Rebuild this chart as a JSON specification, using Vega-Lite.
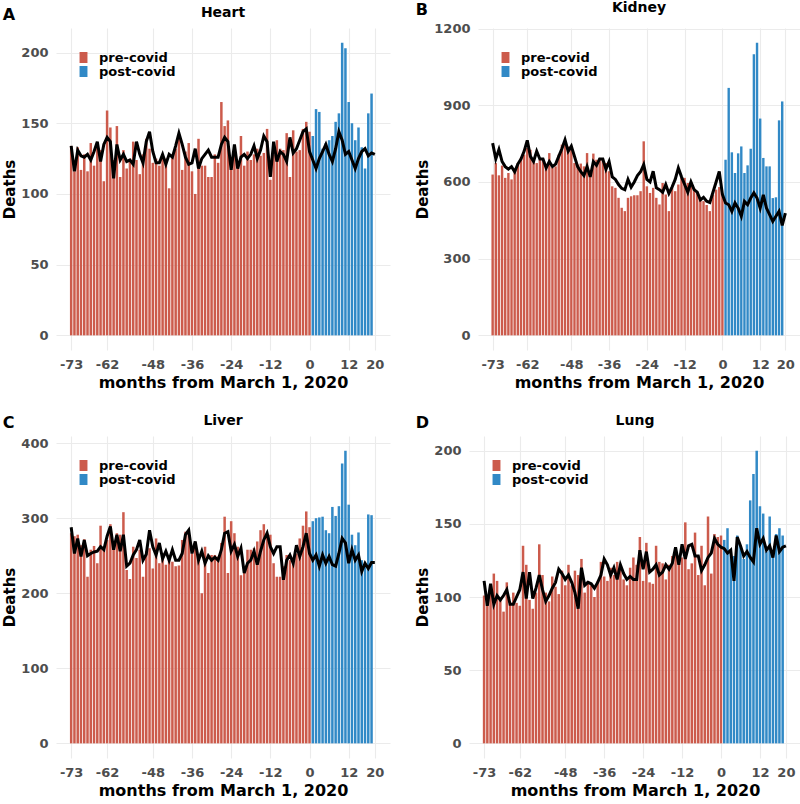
{
"$schema": "https://vega.github.io/schema/vega-lite/v6.json",
"background": "white",
"padding": {"left": 2, "top": 0, "right": 0, "bottom": 0},
"config": {
  "font": "DejaVu Sans",
  "view": {"stroke": null},
  "axis": {"domain": false, "ticks": false, "gridColor": "#EBEBEB", "gridWidth": 1.1, "labelFont": "DejaVu Sans", "labelFontWeight": "bold", "labelFontSize": 13, "labelColor": "#4D4D4D", "labelPadding": 8, "titleFont": "DejaVu Sans", "titleFontWeight": "bold", "titleFontSize": 15, "titleColor": "black"},
  "axisX": {"titlePadding": 3, "titleFontSize": 16, "labelFlush": false, "labelOverlap": false, "labelExpr": "datum.value + ''"},
  "axisY": {"titlePadding": 3, "labelExpr": "datum.value + ''"},
  "title": {"font": "DejaVu Sans", "fontWeight": "bold", "fontSize": 14, "color": "black"},
  "legend": {"orient": "none", "legendX": 21, "legendY": 23, "symbolType": "M-0.72,-1H0.72V1H-0.72Z", "symbolSize": 121, "symbolStrokeWidth": 0, "labelFont": "DejaVu Sans", "labelFontWeight": "bold", "labelFontSize": 13, "labelColor": "black", "rowPadding": 0, "labelOffset": 9}
},
"datasets": {
"heart": [
{"m":-73,"d":134,"e":134,"g":"pre-covid"},{"m":-72,"d":116,"e":116,"g":"pre-covid"},{"m":-71,"d":133,"e":131,"g":"pre-covid"},{"m":-70,"d":117,"e":127,"g":"pre-covid"},{"m":-69,"d":128,"e":126,"g":"pre-covid"},{"m":-68,"d":116,"e":128,"g":"pre-covid"},{"m":-67,"d":136,"e":124,"g":"pre-covid"},{"m":-66,"d":120,"e":130,"g":"pre-covid"},{"m":-65,"d":134,"e":137,"g":"pre-covid"},{"m":-64,"d":131,"e":123,"g":"pre-covid"},
{"m":-63,"d":109,"e":135,"g":"pre-covid"},{"m":-62,"d":159,"e":140,"g":"pre-covid"},{"m":-61,"d":147,"e":137,"g":"pre-covid"},{"m":-60,"d":124,"e":111,"g":"pre-covid"},{"m":-59,"d":148,"e":135,"g":"pre-covid"},{"m":-58,"d":112,"e":124,"g":"pre-covid"},{"m":-57,"d":131,"e":128,"g":"pre-covid"},{"m":-56,"d":118,"e":123,"g":"pre-covid"},{"m":-55,"d":125,"e":124,"g":"pre-covid"},{"m":-54,"d":137,"e":121,"g":"pre-covid"},
{"m":-53,"d":124,"e":137,"g":"pre-covid"},{"m":-52,"d":114,"e":128,"g":"pre-covid"},{"m":-51,"d":128,"e":122,"g":"pre-covid"},{"m":-50,"d":139,"e":137,"g":"pre-covid"},{"m":-49,"d":132,"e":144,"g":"pre-covid"},{"m":-48,"d":122,"e":130,"g":"pre-covid"},{"m":-47,"d":125,"e":122,"g":"pre-covid"},{"m":-46,"d":120,"e":122,"g":"pre-covid"},{"m":-45,"d":126,"e":128,"g":"pre-covid"},{"m":-44,"d":125,"e":121,"g":"pre-covid"},
{"m":-43,"d":104,"e":128,"g":"pre-covid"},{"m":-42,"d":128,"e":126,"g":"pre-covid"},{"m":-41,"d":132,"e":134,"g":"pre-covid"},{"m":-40,"d":140,"e":143,"g":"pre-covid"},{"m":-39,"d":117,"e":135,"g":"pre-covid"},{"m":-38,"d":130,"e":126,"g":"pre-covid"},{"m":-37,"d":136,"e":121,"g":"pre-covid"},{"m":-36,"d":116,"e":122,"g":"pre-covid"},{"m":-35,"d":100,"e":132,"g":"pre-covid"},{"m":-34,"d":139,"e":118,"g":"pre-covid"},
{"m":-33,"d":120,"e":125,"g":"pre-covid"},{"m":-32,"d":120,"e":128,"g":"pre-covid"},{"m":-31,"d":112,"e":131,"g":"pre-covid"},{"m":-30,"d":112,"e":126,"g":"pre-covid"},{"m":-29,"d":128,"e":126,"g":"pre-covid"},{"m":-28,"d":122,"e":126,"g":"pre-covid"},{"m":-27,"d":165,"e":135,"g":"pre-covid"},{"m":-26,"d":148,"e":140,"g":"pre-covid"},{"m":-25,"d":152,"e":137,"g":"pre-covid"},{"m":-24,"d":124,"e":117,"g":"pre-covid"},
{"m":-23,"d":131,"e":135,"g":"pre-covid"},{"m":-22,"d":120,"e":118,"g":"pre-covid"},{"m":-21,"d":141,"e":126,"g":"pre-covid"},{"m":-20,"d":120,"e":128,"g":"pre-covid"},{"m":-19,"d":130,"e":125,"g":"pre-covid"},{"m":-18,"d":124,"e":128,"g":"pre-covid"},{"m":-17,"d":128,"e":134,"g":"pre-covid"},{"m":-16,"d":132,"e":125,"g":"pre-covid"},{"m":-15,"d":127,"e":131,"g":"pre-covid"},{"m":-14,"d":129,"e":141,"g":"pre-covid"},
{"m":-13,"d":146,"e":137,"g":"pre-covid"},{"m":-12,"d":110,"e":112,"g":"pre-covid"},{"m":-11,"d":128,"e":137,"g":"pre-covid"},{"m":-10,"d":138,"e":123,"g":"pre-covid"},{"m":-9,"d":132,"e":130,"g":"pre-covid"},{"m":-8,"d":131,"e":128,"g":"pre-covid"},{"m":-7,"d":143,"e":123,"g":"pre-covid"},{"m":-6,"d":112,"e":140,"g":"pre-covid"},{"m":-5,"d":145,"e":129,"g":"pre-covid"},{"m":-4,"d":130,"e":132,"g":"pre-covid"},
{"m":-3,"d":131,"e":138,"g":"pre-covid"},{"m":-2,"d":146,"e":144,"g":"pre-covid"},{"m":-1,"d":151,"e":146,"g":"pre-covid"},{"m":0,"d":144,"e":130,"g":"pre-covid"},
{"m":1,"d":141,"e":124,"g":"post-covid"},{"m":2,"d":160,"e":118,"g":"post-covid"},{"m":3,"d":158,"e":125,"g":"post-covid"},{"m":4,"d":132,"e":130,"g":"post-covid"},{"m":5,"d":136,"e":135,"g":"post-covid"},{"m":6,"d":138,"e":128,"g":"post-covid"},{"m":7,"d":141,"e":123,"g":"post-covid"},{"m":8,"d":151,"e":132,"g":"post-covid"},{"m":9,"d":157,"e":144,"g":"post-covid"},{"m":10,"d":207,"e":138,"g":"post-covid"},
{"m":11,"d":203,"e":128,"g":"post-covid"},{"m":12,"d":165,"e":130,"g":"post-covid"},{"m":13,"d":150,"e":124,"g":"post-covid"},{"m":14,"d":138,"e":118,"g":"post-covid"},{"m":15,"d":147,"e":125,"g":"post-covid"},{"m":16,"d":133,"e":130,"g":"post-covid"},{"m":17,"d":118,"e":132,"g":"post-covid"},{"m":18,"d":157,"e":127,"g":"post-covid"},{"m":19,"d":171,"e":129,"g":"post-covid"},{"m":20,"d":null,"e":128,"g":"post-covid"}
],
"kidney": [
{"m":-73,"d":629,"e":752,"g":"pre-covid"},{"m":-72,"d":674,"e":690,"g":"pre-covid"},{"m":-71,"d":626,"e":727,"g":"pre-covid"},{"m":-70,"d":664,"e":680,"g":"pre-covid"},{"m":-69,"d":616,"e":660,"g":"pre-covid"},{"m":-68,"d":635,"e":650,"g":"pre-covid"},{"m":-67,"d":610,"e":660,"g":"pre-covid"},{"m":-66,"d":642,"e":640,"g":"pre-covid"},{"m":-65,"d":674,"e":670,"g":"pre-covid"},{"m":-64,"d":694,"e":690,"g":"pre-covid"},
{"m":-63,"d":707,"e":720,"g":"pre-covid"},{"m":-62,"d":733,"e":763,"g":"pre-covid"},{"m":-61,"d":726,"e":700,"g":"pre-covid"},{"m":-60,"d":687,"e":680,"g":"pre-covid"},{"m":-59,"d":674,"e":720,"g":"pre-covid"},{"m":-58,"d":687,"e":690,"g":"pre-covid"},{"m":-57,"d":687,"e":690,"g":"pre-covid"},{"m":-56,"d":655,"e":655,"g":"pre-covid"},{"m":-55,"d":713,"e":680,"g":"pre-covid"},{"m":-54,"d":655,"e":660,"g":"pre-covid"},
{"m":-53,"d":661,"e":670,"g":"pre-covid"},{"m":-52,"d":707,"e":700,"g":"pre-covid"},{"m":-51,"d":746,"e":730,"g":"pre-covid"},{"m":-50,"d":759,"e":765,"g":"pre-covid"},{"m":-49,"d":739,"e":720,"g":"pre-covid"},{"m":-48,"d":733,"e":740,"g":"pre-covid"},{"m":-47,"d":674,"e":700,"g":"pre-covid"},{"m":-46,"d":668,"e":660,"g":"pre-covid"},{"m":-45,"d":672,"e":640,"g":"pre-covid"},{"m":-44,"d":661,"e":625,"g":"pre-covid"},
{"m":-43,"d":713,"e":660,"g":"pre-covid"},{"m":-42,"d":635,"e":620,"g":"pre-covid"},{"m":-41,"d":711,"e":680,"g":"pre-covid"},{"m":-40,"d":687,"e":665,"g":"pre-covid"},{"m":-39,"d":694,"e":690,"g":"pre-covid"},{"m":-38,"d":691,"e":690,"g":"pre-covid"},{"m":-37,"d":674,"e":650,"g":"pre-covid"},{"m":-36,"d":642,"e":680,"g":"pre-covid"},{"m":-35,"d":583,"e":620,"g":"pre-covid"},{"m":-34,"d":577,"e":610,"g":"pre-covid"},
{"m":-33,"d":538,"e":590,"g":"pre-covid"},{"m":-32,"d":499,"e":575,"g":"pre-covid"},{"m":-31,"d":486,"e":570,"g":"pre-covid"},{"m":-30,"d":538,"e":610,"g":"pre-covid"},{"m":-29,"d":544,"e":580,"g":"pre-covid"},{"m":-28,"d":548,"e":600,"g":"pre-covid"},{"m":-27,"d":548,"e":625,"g":"pre-covid"},{"m":-26,"d":564,"e":640,"g":"pre-covid"},{"m":-25,"d":759,"e":668,"g":"pre-covid"},{"m":-24,"d":583,"e":610,"g":"pre-covid"},
{"m":-23,"d":557,"e":600,"g":"pre-covid"},{"m":-22,"d":577,"e":642,"g":"pre-covid"},{"m":-21,"d":538,"e":577,"g":"pre-covid"},{"m":-20,"d":512,"e":570,"g":"pre-covid"},{"m":-19,"d":596,"e":560,"g":"pre-covid"},{"m":-18,"d":551,"e":590,"g":"pre-covid"},{"m":-17,"d":486,"e":555,"g":"pre-covid"},{"m":-16,"d":577,"e":580,"g":"pre-covid"},{"m":-15,"d":564,"e":610,"g":"pre-covid"},{"m":-14,"d":590,"e":655,"g":"pre-covid"},
{"m":-13,"d":616,"e":620,"g":"pre-covid"},{"m":-12,"d":616,"e":590,"g":"pre-covid"},{"m":-11,"d":596,"e":560,"g":"pre-covid"},{"m":-10,"d":600,"e":600,"g":"pre-covid"},{"m":-9,"d":575,"e":570,"g":"pre-covid"},{"m":-8,"d":560,"e":560,"g":"pre-covid"},{"m":-7,"d":535,"e":530,"g":"pre-covid"},{"m":-6,"d":525,"e":540,"g":"pre-covid"},{"m":-5,"d":510,"e":525,"g":"pre-covid"},{"m":-4,"d":486,"e":520,"g":"pre-covid"},
{"m":-3,"d":550,"e":560,"g":"pre-covid"},{"m":-2,"d":570,"e":600,"g":"pre-covid"},{"m":-1,"d":580,"e":641,"g":"pre-covid"},{"m":0,"d":555,"e":551,"g":"pre-covid"},
{"m":1,"d":687,"e":518,"g":"post-covid"},{"m":2,"d":968,"e":511,"g":"post-covid"},{"m":3,"d":716,"e":485,"g":"post-covid"},{"m":4,"d":635,"e":518,"g":"post-covid"},{"m":5,"d":712,"e":498,"g":"post-covid"},{"m":6,"d":739,"e":466,"g":"post-covid"},{"m":7,"d":635,"e":524,"g":"post-covid"},{"m":8,"d":665,"e":511,"g":"post-covid"},{"m":9,"d":730,"e":537,"g":"post-covid"},{"m":10,"d":1100,"e":557,"g":"post-covid"},
{"m":11,"d":1145,"e":537,"g":"post-covid"},{"m":12,"d":848,"e":498,"g":"post-covid"},{"m":13,"d":694,"e":550,"g":"post-covid"},{"m":14,"d":661,"e":498,"g":"post-covid"},{"m":15,"d":661,"e":472,"g":"post-covid"},{"m":16,"d":537,"e":446,"g":"post-covid"},{"m":17,"d":540,"e":466,"g":"post-covid"},{"m":18,"d":841,"e":485,"g":"post-covid"},{"m":19,"d":915,"e":430,"g":"post-covid"},{"m":20,"d":null,"e":478,"g":"post-covid"}
],
"liver": [
{"m":-73,"d":280,"e":288,"g":"pre-covid"},{"m":-72,"d":276,"e":253,"g":"pre-covid"},{"m":-71,"d":278,"e":273,"g":"pre-covid"},{"m":-70,"d":264,"e":249,"g":"pre-covid"},{"m":-69,"d":272,"e":271,"g":"pre-covid"},{"m":-68,"d":222,"e":250,"g":"pre-covid"},{"m":-67,"d":258,"e":253,"g":"pre-covid"},{"m":-66,"d":263,"e":255,"g":"pre-covid"},{"m":-65,"d":240,"e":256,"g":"pre-covid"},{"m":-64,"d":290,"e":262,"g":"pre-covid"},
{"m":-63,"d":262,"e":258,"g":"pre-covid"},{"m":-62,"d":271,"e":276,"g":"pre-covid"},{"m":-61,"d":292,"e":289,"g":"pre-covid"},{"m":-60,"d":267,"e":258,"g":"pre-covid"},{"m":-59,"d":280,"e":278,"g":"pre-covid"},{"m":-58,"d":278,"e":256,"g":"pre-covid"},{"m":-57,"d":308,"e":278,"g":"pre-covid"},{"m":-56,"d":231,"e":236,"g":"pre-covid"},{"m":-55,"d":219,"e":240,"g":"pre-covid"},{"m":-54,"d":262,"e":251,"g":"pre-covid"},
{"m":-53,"d":247,"e":258,"g":"pre-covid"},{"m":-52,"d":258,"e":271,"g":"pre-covid"},{"m":-51,"d":222,"e":244,"g":"pre-covid"},{"m":-50,"d":256,"e":252,"g":"pre-covid"},{"m":-49,"d":260,"e":284,"g":"pre-covid"},{"m":-48,"d":233,"e":262,"g":"pre-covid"},{"m":-47,"d":273,"e":251,"g":"pre-covid"},{"m":-46,"d":240,"e":267,"g":"pre-covid"},{"m":-45,"d":253,"e":246,"g":"pre-covid"},{"m":-44,"d":238,"e":256,"g":"pre-covid"},
{"m":-43,"d":249,"e":244,"g":"pre-covid"},{"m":-42,"d":242,"e":258,"g":"pre-covid"},{"m":-41,"d":236,"e":244,"g":"pre-covid"},{"m":-40,"d":237,"e":244,"g":"pre-covid"},{"m":-39,"d":271,"e":253,"g":"pre-covid"},{"m":-38,"d":282,"e":278,"g":"pre-covid"},{"m":-37,"d":284,"e":284,"g":"pre-covid"},{"m":-36,"d":253,"e":253,"g":"pre-covid"},{"m":-35,"d":260,"e":269,"g":"pre-covid"},{"m":-34,"d":244,"e":244,"g":"pre-covid"},
{"m":-33,"d":200,"e":256,"g":"pre-covid"},{"m":-32,"d":262,"e":240,"g":"pre-covid"},{"m":-31,"d":227,"e":250,"g":"pre-covid"},{"m":-30,"d":251,"e":244,"g":"pre-covid"},{"m":-29,"d":251,"e":248,"g":"pre-covid"},{"m":-28,"d":249,"e":244,"g":"pre-covid"},{"m":-27,"d":267,"e":258,"g":"pre-covid"},{"m":-26,"d":302,"e":280,"g":"pre-covid"},{"m":-25,"d":227,"e":282,"g":"pre-covid"},{"m":-24,"d":296,"e":256,"g":"pre-covid"},
{"m":-23,"d":280,"e":265,"g":"pre-covid"},{"m":-22,"d":262,"e":249,"g":"pre-covid"},{"m":-21,"d":224,"e":260,"g":"pre-covid"},{"m":-20,"d":227,"e":227,"g":"pre-covid"},{"m":-19,"d":258,"e":240,"g":"pre-covid"},{"m":-18,"d":258,"e":244,"g":"pre-covid"},{"m":-17,"d":260,"e":256,"g":"pre-covid"},{"m":-16,"d":269,"e":238,"g":"pre-covid"},{"m":-15,"d":284,"e":256,"g":"pre-covid"},{"m":-14,"d":292,"e":271,"g":"pre-covid"},
{"m":-13,"d":280,"e":280,"g":"pre-covid"},{"m":-12,"d":278,"e":262,"g":"pre-covid"},{"m":-11,"d":240,"e":253,"g":"pre-covid"},{"m":-10,"d":222,"e":262,"g":"pre-covid"},{"m":-9,"d":222,"e":262,"g":"pre-covid"},{"m":-8,"d":236,"e":218,"g":"pre-covid"},{"m":-7,"d":251,"e":244,"g":"pre-covid"},{"m":-6,"d":244,"e":251,"g":"pre-covid"},{"m":-5,"d":244,"e":240,"g":"pre-covid"},{"m":-4,"d":253,"e":264,"g":"pre-covid"},
{"m":-3,"d":273,"e":249,"g":"pre-covid"},{"m":-2,"d":290,"e":262,"g":"pre-covid"},{"m":-1,"d":309,"e":280,"g":"pre-covid"},{"m":0,"d":288,"e":253,"g":"pre-covid"},
{"m":1,"d":296,"e":244,"g":"post-covid"},{"m":2,"d":300,"e":251,"g":"post-covid"},{"m":3,"d":301,"e":236,"g":"post-covid"},{"m":4,"d":302,"e":251,"g":"post-covid"},{"m":5,"d":284,"e":240,"g":"post-covid"},{"m":6,"d":280,"e":249,"g":"post-covid"},{"m":7,"d":315,"e":238,"g":"post-covid"},{"m":8,"d":303,"e":236,"g":"post-covid"},{"m":9,"d":316,"e":253,"g":"post-covid"},{"m":10,"d":373,"e":273,"g":"post-covid"},
{"m":11,"d":390,"e":267,"g":"post-covid"},{"m":12,"d":318,"e":240,"g":"post-covid"},{"m":13,"d":278,"e":258,"g":"post-covid"},{"m":14,"d":264,"e":244,"g":"post-covid"},{"m":15,"d":281,"e":251,"g":"post-covid"},{"m":16,"d":244,"e":229,"g":"post-covid"},{"m":17,"d":236,"e":240,"g":"post-covid"},{"m":18,"d":305,"e":233,"g":"post-covid"},{"m":19,"d":304,"e":241,"g":"post-covid"},{"m":20,"d":null,"e":241,"g":"post-covid"}
],
"lung": [
{"m":-73,"d":101,"e":111,"g":"pre-covid"},{"m":-72,"d":94,"e":94,"g":"pre-covid"},{"m":-71,"d":108,"e":109,"g":"pre-covid"},{"m":-70,"d":116,"e":95,"g":"pre-covid"},{"m":-69,"d":111,"e":101,"g":"pre-covid"},{"m":-68,"d":98,"e":98,"g":"pre-covid"},{"m":-67,"d":90,"e":101,"g":"pre-covid"},{"m":-66,"d":110,"e":105,"g":"pre-covid"},{"m":-65,"d":95,"e":95,"g":"pre-covid"},{"m":-64,"d":103,"e":95,"g":"pre-covid"},
{"m":-63,"d":96,"e":100,"g":"pre-covid"},{"m":-62,"d":94,"e":105,"g":"pre-covid"},{"m":-61,"d":135,"e":117,"g":"pre-covid"},{"m":-60,"d":122,"e":99,"g":"pre-covid"},{"m":-59,"d":98,"e":117,"g":"pre-covid"},{"m":-58,"d":92,"e":99,"g":"pre-covid"},{"m":-57,"d":103,"e":106,"g":"pre-covid"},{"m":-56,"d":136,"e":115,"g":"pre-covid"},{"m":-55,"d":115,"e":105,"g":"pre-covid"},{"m":-54,"d":103,"e":97,"g":"pre-covid"},
{"m":-53,"d":97,"e":101,"g":"pre-covid"},{"m":-52,"d":114,"e":106,"g":"pre-covid"},{"m":-51,"d":107,"e":110,"g":"pre-covid"},{"m":-50,"d":102,"e":119,"g":"pre-covid"},{"m":-49,"d":118,"e":116,"g":"pre-covid"},{"m":-48,"d":108,"e":112,"g":"pre-covid"},{"m":-47,"d":122,"e":115,"g":"pre-covid"},{"m":-46,"d":108,"e":110,"g":"pre-covid"},{"m":-45,"d":118,"e":103,"g":"pre-covid"},{"m":-44,"d":115,"e":92,"g":"pre-covid"},
{"m":-43,"d":126,"e":120,"g":"pre-covid"},{"m":-42,"d":103,"e":108,"g":"pre-covid"},{"m":-41,"d":111,"e":110,"g":"pre-covid"},{"m":-40,"d":108,"e":109,"g":"pre-covid"},{"m":-39,"d":100,"e":106,"g":"pre-covid"},{"m":-38,"d":111,"e":110,"g":"pre-covid"},{"m":-37,"d":124,"e":115,"g":"pre-covid"},{"m":-36,"d":114,"e":126,"g":"pre-covid"},{"m":-35,"d":111,"e":122,"g":"pre-covid"},{"m":-34,"d":120,"e":115,"g":"pre-covid"},
{"m":-33,"d":115,"e":120,"g":"pre-covid"},{"m":-32,"d":124,"e":112,"g":"pre-covid"},{"m":-31,"d":122,"e":122,"g":"pre-covid"},{"m":-30,"d":112,"e":116,"g":"pre-covid"},{"m":-29,"d":108,"e":112,"g":"pre-covid"},{"m":-28,"d":120,"e":114,"g":"pre-covid"},{"m":-27,"d":127,"e":112,"g":"pre-covid"},{"m":-26,"d":122,"e":112,"g":"pre-covid"},{"m":-25,"d":141,"e":132,"g":"pre-covid"},{"m":-24,"d":111,"e":119,"g":"pre-covid"},
{"m":-23,"d":137,"e":131,"g":"pre-covid"},{"m":-22,"d":110,"e":117,"g":"pre-covid"},{"m":-21,"d":109,"e":119,"g":"pre-covid"},{"m":-20,"d":135,"e":122,"g":"pre-covid"},{"m":-19,"d":124,"e":115,"g":"pre-covid"},{"m":-18,"d":123,"e":117,"g":"pre-covid"},{"m":-17,"d":112,"e":122,"g":"pre-covid"},{"m":-16,"d":122,"e":119,"g":"pre-covid"},{"m":-15,"d":128,"e":123,"g":"pre-covid"},{"m":-14,"d":134,"e":134,"g":"pre-covid"},
{"m":-13,"d":122,"e":122,"g":"pre-covid"},{"m":-12,"d":127,"e":136,"g":"pre-covid"},{"m":-11,"d":151,"e":126,"g":"pre-covid"},{"m":-10,"d":119,"e":135,"g":"pre-covid"},{"m":-9,"d":123,"e":136,"g":"pre-covid"},{"m":-8,"d":144,"e":128,"g":"pre-covid"},{"m":-7,"d":115,"e":128,"g":"pre-covid"},{"m":-6,"d":135,"e":118,"g":"pre-covid"},{"m":-5,"d":108,"e":122,"g":"pre-covid"},{"m":-4,"d":155,"e":127,"g":"pre-covid"},
{"m":-3,"d":116,"e":130,"g":"pre-covid"},{"m":-2,"d":143,"e":140,"g":"pre-covid"},{"m":-1,"d":141,"e":136,"g":"pre-covid"},{"m":0,"d":142,"e":134,"g":"pre-covid"},
{"m":1,"d":139,"e":133,"g":"post-covid"},{"m":2,"d":147,"e":130,"g":"post-covid"},{"m":3,"d":132,"e":132,"g":"post-covid"},{"m":4,"d":128,"e":111,"g":"post-covid"},{"m":5,"d":142,"e":141,"g":"post-covid"},{"m":6,"d":135,"e":135,"g":"post-covid"},{"m":7,"d":126,"e":128,"g":"post-covid"},{"m":8,"d":136,"e":131,"g":"post-covid"},{"m":9,"d":166,"e":127,"g":"post-covid"},{"m":10,"d":184,"e":124,"g":"post-covid"},
{"m":11,"d":200,"e":147,"g":"post-covid"},{"m":12,"d":162,"e":136,"g":"post-covid"},{"m":13,"d":157,"e":140,"g":"post-covid"},{"m":14,"d":131,"e":132,"g":"post-covid"},{"m":15,"d":155,"e":135,"g":"post-covid"},{"m":16,"d":130,"e":127,"g":"post-covid"},{"m":17,"d":143,"e":142,"g":"post-covid"},{"m":18,"d":147,"e":131,"g":"post-covid"},{"m":19,"d":142,"e":134,"g":"post-covid"},{"m":20,"d":null,"e":135,"g":"post-covid"}
]
},
"spacing": 24,
"resolve": {"scale": {"color": "independent"}, "legend": {"color": "independent"}},
"vconcat": [
 {"spacing": 25, "resolve": {"scale": {"color": "independent"}, "legend": {"color": "independent"}},
  "hconcat": [
  {"title": {"text": "A", "anchor": "start", "frame": "bounds", "offset": -17, "fontSize": 16},
   "resolve": {"scale": {"color": "independent"}, "legend": {"color": "independent"}},
   "vconcat": [{
    "title": {"text": "Heart", "frame": "group", "anchor": "middle", "offset": 8},
    "width": 334, "height": 322,
    "data": {"name": "heart"},
    "encoding": {"x": {"field": "m", "type": "quantitative", "scale": {"domain": [-77.65, 24.65], "nice": false, "zero": false, "padding": 0}, "axis": {"values": [-73,-62,-48,-36,-24,-12,0,12,20], "title": "months from March 1, 2020"}}},
    "layer": [
     {"mark": {"type": "bar", "width": 2.5},
      "encoding": {"y": {"field": "d", "type": "quantitative", "scale": {"domain": [-10.35, 217.35], "nice": false, "zero": false}, "axis": {"values": [0,50,100,150,200], "title": "Deaths"}},
       "y2": {"datum": 0},
       "color": {"field": "g", "type": "nominal", "scale": {"domain": ["pre-covid","post-covid"], "range": ["#CC5B4C","#3189C6"]}, "legend": {"title": null}}}},
     {"mark": {"type": "line", "color": "black", "strokeWidth": 3}, "encoding": {"y": {"field": "e", "type": "quantitative", "axis": {"values": [0,50,100,150,200], "title": "Deaths"}}}}
    ]
   }]
  },
  {"title": {"text": "B", "anchor": "start", "frame": "bounds", "offset": -17, "fontSize": 16},
   "resolve": {"scale": {"color": "independent"}, "legend": {"color": "independent"}},
   "vconcat": [{
    "title": {"text": "Kidney", "frame": "group", "anchor": "middle", "offset": 8},
    "width": 322, "height": 322,
    "data": {"name": "kidney"},
    "encoding": {"x": {"field": "m", "type": "quantitative", "scale": {"domain": [-77.65, 24.65], "nice": false, "zero": false, "padding": 0}, "axis": {"values": [-73,-62,-48,-36,-24,-12,0,12,20], "title": "months from March 1, 2020"}}},
    "layer": [
     {"mark": {"type": "bar", "width": 2.4},
      "encoding": {"y": {"field": "d", "type": "quantitative", "scale": {"domain": [-57.25, 1202.25], "nice": false, "zero": false}, "axis": {"values": [0,300,600,900,1200], "title": "Deaths"}},
       "y2": {"datum": 0},
       "color": {"field": "g", "type": "nominal", "scale": {"domain": ["pre-covid","post-covid"], "range": ["#CC5B4C","#3189C6"]}, "legend": {"title": null}}}},
     {"mark": {"type": "line", "color": "black", "strokeWidth": 3}, "encoding": {"y": {"field": "e", "type": "quantitative", "axis": {"values": [0,300,600,900,1200], "title": "Deaths"}}}}
    ]
   }]
  }
 ]},
 {"spacing": 25, "resolve": {"scale": {"color": "independent"}, "legend": {"color": "independent"}},
  "hconcat": [
  {"title": {"text": "C", "anchor": "start", "frame": "bounds", "offset": -17, "fontSize": 16},
   "resolve": {"scale": {"color": "independent"}, "legend": {"color": "independent"}},
   "vconcat": [{
    "title": {"text": "Liver", "frame": "group", "anchor": "middle", "offset": 8},
    "width": 334, "height": 322,
    "data": {"name": "liver"},
    "encoding": {"x": {"field": "m", "type": "quantitative", "scale": {"domain": [-77.65, 24.65], "nice": false, "zero": false, "padding": 0}, "axis": {"values": [-73,-62,-48,-36,-24,-12,0,12,20], "title": "months from March 1, 2020"}}},
    "layer": [
     {"mark": {"type": "bar", "width": 2.5},
      "encoding": {"y": {"field": "d", "type": "quantitative", "scale": {"domain": [-19.5, 409.5], "nice": false, "zero": false}, "axis": {"values": [0,100,200,300,400], "title": "Deaths"}},
       "y2": {"datum": 0},
       "color": {"field": "g", "type": "nominal", "scale": {"domain": ["pre-covid","post-covid"], "range": ["#CC5B4C","#3189C6"]}, "legend": {"title": null}}}},
     {"mark": {"type": "line", "color": "black", "strokeWidth": 3}, "encoding": {"y": {"field": "e", "type": "quantitative", "axis": {"values": [0,100,200,300,400], "title": "Deaths"}}}}
    ]
   }]
  },
  {"title": {"text": "D", "anchor": "start", "frame": "bounds", "offset": -17, "fontSize": 16},
   "resolve": {"scale": {"color": "independent"}, "legend": {"color": "independent"}},
   "vconcat": [{
    "title": {"text": "Lung", "frame": "group", "anchor": "middle", "offset": 8},
    "width": 332, "height": 322,
    "data": {"name": "lung"},
    "encoding": {"x": {"field": "m", "type": "quantitative", "scale": {"domain": [-77.65, 24.65], "nice": false, "zero": false, "padding": 0}, "axis": {"values": [-73,-62,-48,-36,-24,-12,0,12,20], "title": "months from March 1, 2020"}}},
    "layer": [
     {"mark": {"type": "bar", "width": 2.5},
      "encoding": {"y": {"field": "d", "type": "quantitative", "scale": {"domain": [-10, 210], "nice": false, "zero": false}, "axis": {"values": [0,50,100,150,200], "title": "Deaths"}},
       "y2": {"datum": 0},
       "color": {"field": "g", "type": "nominal", "scale": {"domain": ["pre-covid","post-covid"], "range": ["#CC5B4C","#3189C6"]}, "legend": {"title": null}}}},
     {"mark": {"type": "line", "color": "black", "strokeWidth": 3}, "encoding": {"y": {"field": "e", "type": "quantitative", "axis": {"values": [0,50,100,150,200], "title": "Deaths"}}}}
    ]
   }]
  }
 ]}
]
}
